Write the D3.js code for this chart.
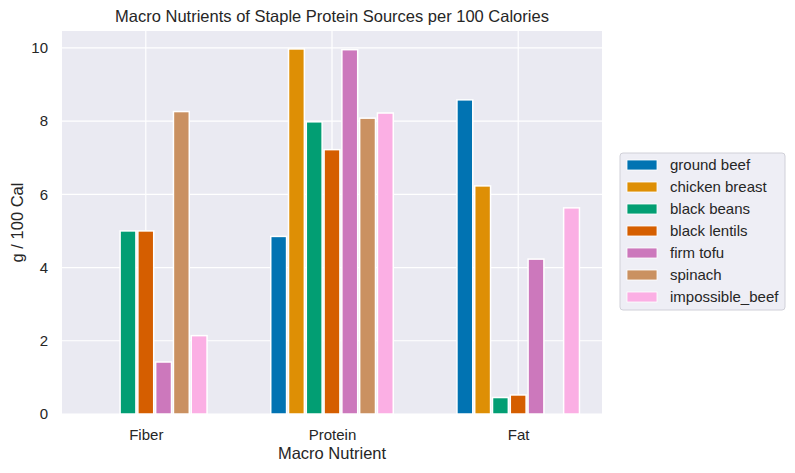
<!DOCTYPE html>
<html>
<head>
<meta charset="utf-8">
<script src="https://cdn.jsdelivr.net/npm/d3@7"></script>
<style>
  body { margin: 0; background: #fff; }
  text { font-family: "Liberation Sans", Arial, sans-serif; fill: #262626; }
</style>
</head>
<body>
<div id="chart"></div>
<script>
// data
var nutrients = ["Fiber", "Protein", "Fat"];
var foods = ["ground beef", "chicken breast", "black beans", "black lentils", "firm tofu", "spinach", "impossible_beef"];
var groundBeef     = [0,    4.85, 8.58];
var chickenBreast  = [0,    9.97, 6.23];
var blackBeans     = [5.0,  7.98, 0.45];
var blackLentils   = [5.0,  7.22, 0.52];
var firmTofu       = [1.42, 9.95, 4.23];
var spinach        = [8.26, 8.08, 0];
var impossibleBeef = [2.14, 8.22, 5.63];
var yTicks = [0, 2, 4, 6, 8, 10];

var seriesValues = [groundBeef, chickenBreast, blackBeans, blackLentils, firmTofu, spinach, impossibleBeef];
var colors = ["#0173b2", "#de8f05", "#029e73", "#d55e00", "#cc78bc", "#ca9161", "#fbafe4"];

var W = 795, H = 473;
var margin = {top: 31, right: 193, bottom: 59, left: 62},
    width = W - margin.left - margin.right,
    height = H - margin.top - margin.bottom;

var svg = d3.select("#chart")
  .append("svg")
    .attr("width", W)
    .attr("height", H);

var g = svg.append("g")
    .attr("transform", "translate(" + margin.left + "," + margin.top + ")");

// x: category index in data units, like matplotlib's xlim
var x = d3.scaleLinear()
  .domain([-0.45, 2.45])
  .range([0, width]);

var y = d3.scaleLinear()
  .domain([0, 10.46])
  .range([height, 0]);

g.append("rect")
  .attr("width", width)
  .attr("height", height)
  .attr("fill", "#eaeaf2");

// grid
g.selectAll(".ygrid")
  .data(yTicks)
  .enter().append("line")
    .attr("x1", 0).attr("x2", width)
    .attr("y1", function(d) { return y(d); })
    .attr("y2", function(d) { return y(d); })
    .attr("stroke", "#fff").attr("stroke-width", 1.2);

g.selectAll(".xgrid")
  .data(nutrients)
  .enter().append("line")
    .attr("x1", function(d, i) { return x(i); })
    .attr("x2", function(d, i) { return x(i); })
    .attr("y1", 0).attr("y2", height)
    .attr("stroke", "#fff").attr("stroke-width", 1.2);

// bars
var step = 0.0955, barW = 0.085;
var rows = [];
foods.forEach(function(f, s) {
  nutrients.forEach(function(n, i) {
    rows.push({food: f, s: s, i: i, v: seriesValues[s][i]});
  });
});

g.selectAll(".bar")
  .data(rows.filter(function(d) { return d.v > 0; }))
  .enter().append("rect")
    .attr("x", function(d) { return x(d.i + (d.s - 3) * step - barW / 2); })
    .attr("width", function() { return x(barW) - x(0); })
    .attr("y", function(d) { return y(d.v); })
    .attr("height", function(d) { return y(0) - y(d.v); })
    .attr("fill", function(d) { return colors[d.s]; })
    .attr("stroke", "#fff")
    .attr("stroke-width", 1.5);

// axes
var xAxis = g.append("g")
  .attr("transform", "translate(0," + height + ")")
  .call(d3.axisBottom(x).tickValues([0, 1, 2]).tickFormat(function(d) { return nutrients[d]; }).tickSize(0).tickPadding(15));
xAxis.select(".domain").remove();
xAxis.selectAll("text").style("font-size", "15px").attr("fill", "#262626");

var yAxis = g.append("g")
  .call(d3.axisLeft(y).tickValues(yTicks).tickSize(0).tickPadding(14));
yAxis.select(".domain").remove();
yAxis.selectAll("text").style("font-size", "15px").attr("fill", "#262626");

// labels
svg.append("text")
  .attr("x", margin.left + width / 2).attr("y", 22)
  .attr("text-anchor", "middle")
  .style("font-size", "16.5px")
  .text("Macro Nutrients of Staple Protein Sources per 100 Calories");

svg.append("text")
  .attr("x", margin.left + width / 2).attr("y", 459)
  .attr("text-anchor", "middle")
  .style("font-size", "16.5px")
  .text("Macro Nutrient");

svg.append("text")
  .attr("transform", "translate(23," + (margin.top + height / 2) + ") rotate(-90)")
  .attr("text-anchor", "middle")
  .style("font-size", "16.5px")
  .text("g / 100 Cal");

// legend
var lg = svg.append("g").attr("transform", "translate(620,153)");
lg.append("rect")
  .attr("width", 165).attr("height", 157)
  .attr("rx", 3)
  .attr("fill", "#eaeaf2").attr("fill-opacity", 0.8)
  .attr("stroke", "#d0d0d8");

var items = lg.selectAll(".item")
  .data(foods)
  .enter().append("g")
    .attr("transform", function(d, i) { return "translate(7," + (12 + i * 22) + ")"; });
items.append("rect")
  .attr("width", 30).attr("height", 10)
  .attr("y", -5)
  .attr("fill", function(d, i) { return colors[i]; })
  .attr("stroke", "#fff").attr("stroke-width", 0.8);
items.append("text")
  .attr("x", 43).attr("dy", "0.35em")
  .style("font-size", "15px")
  .text(function(d) { return d; });
</script>
</body>
</html>
